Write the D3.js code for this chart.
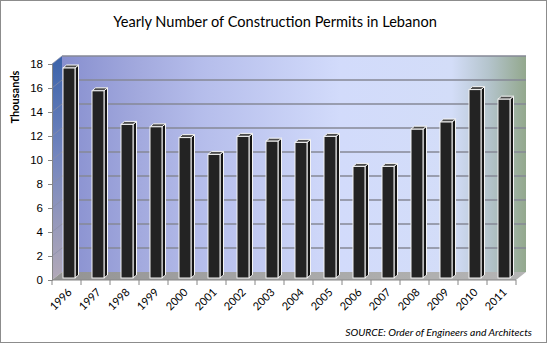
<!DOCTYPE html>
<html>
<head>
<meta charset="utf-8">
<script src="https://cdn.jsdelivr.net/npm/d3@7/dist/d3.min.js"></script>
<style>
html,body{margin:0;padding:0;background:#fff;}
svg{display:block;}
</style>
</head>
<body>
<svg id="chart" width="547" height="343"></svg>
<script>
const years = ["1996","1997","1998","1999","2000","2001","2002","2003","2004","2005","2006","2007","2008","2009","2010","2011"];
const permits = [17.5,15.6,12.8,12.6,11.7,10.3,11.8,11.4,11.3,11.8,9.3,9.3,12.4,13.0,15.7,14.9];
const yTicks = [0,2,4,6,8,10,12,14,16,18];
const titleText = "Yearly Number of Construction Permits in Lebanon";
const yTitle = "Thousands";
const sourceText = "SOURCE: Order of Engineers and Architects";

const svg = d3.select("#chart");
const W = 547, H = 343;
const X0 = 52, X1 = 516, Y0 = 280, YTOP = 64;
const DX = 10, DY = -8;

const x = d3.scaleBand().domain(years).range([X0, X1]);
const y = d3.scaleLinear().domain([0, 18]).range([Y0, YTOP]);

const defs = svg.append("defs");
const wallG = defs.append("linearGradient").attr("id","wall").attr("x1","0").attr("x2","1").attr("y1","0").attr("y2","0");
[[0,"#878fcf"],[0.17,"#a3aade"],[0.3,"#b5bdeb"],[0.6,"#d2dbfb"],[0.84,"#d3ddf8"],[0.92,"#b4c4cc"],[1,"#93a88d"]]
  .forEach(s=>wallG.append("stop").attr("offset",s[0]).attr("stop-color",s[1]));
const sideG = defs.append("linearGradient").attr("id","side").attr("x1","0").attr("x2","0").attr("y1","0").attr("y2","1");
[[0,"#3b63aa"],[0.45,"#7486bf"],[1,"#b2a9b8"]].forEach(s=>sideG.append("stop").attr("offset",s[0]).attr("stop-color",s[1]));
const floorG = defs.append("linearGradient").attr("id","floor").attr("x1","0").attr("x2","1").attr("y1","0").attr("y2","0");
[[0,"#939393"],[0.5,"#a8a8a8"],[1,"#b5b5b5"]].forEach(s=>floorG.append("stop").attr("offset",s[0]).attr("stop-color",s[1]));

// border
svg.append("rect").attr("x",0.5).attr("y",0.5).attr("width",W-1).attr("height",H-1)
  .attr("fill","#fff").attr("stroke","#8c8c8c");

// back wall
svg.append("rect").attr("x",X0+DX).attr("y",y(18)+DY).attr("width",X1-X0).attr("height",y(0)-y(18))
  .attr("fill","url(#wall)");
// left side wall
svg.append("polygon")
  .attr("points",[[X0,y(0)],[X0,y(18)],[X0+DX,y(18)+DY],[X0+DX,y(0)+DY]].map(p=>p.join(",")).join(" "))
  .attr("fill","url(#side)");
// floor
svg.append("polygon")
  .attr("points",[[X0,y(0)],[X1,y(0)],[X1+DX,y(0)+DY],[X0+DX,y(0)+DY]].map(p=>p.join(",")).join(" "))
  .attr("fill","url(#floor)");

// gridlines
const grid = svg.append("g");
yTicks.filter(v=>v>0).forEach(v=>{
  grid.append("line").attr("x1",X0+DX).attr("x2",X1+DX).attr("y1",y(v)+DY).attr("y2",y(v)+DY)
    .attr("stroke","#868896").attr("stroke-width",1.5);
  grid.append("line").attr("x1",X0).attr("x2",X0+DX).attr("y1",y(v)).attr("y2",y(v)+DY)
    .attr("stroke","#8a8fa8").attr("stroke-width",1).attr("opacity",0.7);
});

// bars
const BW = 12, SD = 3.5, SH = 3, FOFF = 2.5, FY = -2;
const bars = svg.append("g");
years.forEach((yr,i)=>{
  const v = permits[i];
  const xl = x(yr) + (x.bandwidth()-BW)/2 + FOFF;
  const xr = xl + BW;
  const yb = y(0) + FY;
  const yt = y(v) + FY;
  const g = bars.append("g");
  g.append("polygon").attr("points",[[xr,yb],[xr,yt],[xr+SD,yt-SH],[xr+SD,yb-SH]].map(p=>p.join(",")).join(" "))
    .attr("fill","#141414").attr("stroke","#f4f4f4").attr("stroke-width",1).attr("stroke-linejoin","round");
  g.append("polygon").attr("points",[[xl,yt],[xr,yt],[xr+SD,yt-SH],[xl+SD,yt-SH]].map(p=>p.join(",")).join(" "))
    .attr("fill","#4a4a4a").attr("stroke","#f4f4f4").attr("stroke-width",1).attr("stroke-linejoin","round");
  g.append("rect").attr("x",xl).attr("y",yt).attr("width",BW).attr("height",yb-yt)
    .attr("fill","#232323").attr("stroke","#f4f4f4").attr("stroke-width",1);
});

// y axis
const yAxis = svg.append("g").attr("transform",`translate(${X0},0)`)
  .call(d3.axisLeft(y).tickValues(yTicks).tickSize(4).tickPadding(5).tickFormat(d3.format("d")));
yAxis.select(".domain").attr("stroke","#868686");
yAxis.selectAll(".tick line").attr("stroke","#868686");
yAxis.selectAll("text").attr("font-family","'Liberation Sans', Arial, sans-serif").attr("font-size",11.5).attr("fill","#000");

// x axis: boundary ticks
const xAxisG = svg.append("g").attr("transform",`translate(0,${Y0})`);
xAxisG.append("line").attr("x1",X0).attr("x2",X1).attr("y1",0).attr("y2",0).attr("stroke","#868686");
years.concat([null]).forEach((yr,i)=>{
  const xb = yr ? x(yr) : X1;
  xAxisG.append("line").attr("x1",xb).attr("x2",xb).attr("y1",0).attr("y2",5).attr("stroke","#868686");
});
const xLab = svg.append("g").attr("transform",`translate(0,${Y0})`)
  .call(d3.axisBottom(x).tickSize(0).tickPadding(0));
xLab.select(".domain").remove();
xLab.selectAll("text")
  .attr("font-family","Lato, 'Open Sans', sans-serif").attr("font-size",11).attr("fill","#000")
  .attr("text-anchor","end").attr("dy",0).attr("y",0)
  .attr("transform","translate(6,13) rotate(-45)");

// titles
const title = svg.append("text").attr("x",275).attr("y",27).attr("text-anchor","middle")
  .attr("font-family","Lato, 'Open Sans', sans-serif").attr("font-size",18).attr("fill","#000").text(titleText);
const tl = title.node().getComputedTextLength();
title.attr("font-size", 18*324/tl);

const yt = svg.append("text").attr("transform","translate(19,97) rotate(-90)").attr("text-anchor","middle")
  .attr("font-family","Lato, 'Open Sans', sans-serif").attr("font-weight","bold").attr("font-size",11).attr("fill","#000").text(yTitle);
const ytl = yt.node().getComputedTextLength();
yt.attr("font-size", 11*53/ytl);

const src = svg.append("text").attr("x",532).attr("y",336).attr("text-anchor","end")
  .attr("font-family","Lato, 'Open Sans', sans-serif").attr("font-style","italic").attr("font-size",10).attr("fill","#000").text(sourceText);
const sl = src.node().getComputedTextLength();
src.attr("font-size", 10*187/sl);
</script>
</body>
</html>
